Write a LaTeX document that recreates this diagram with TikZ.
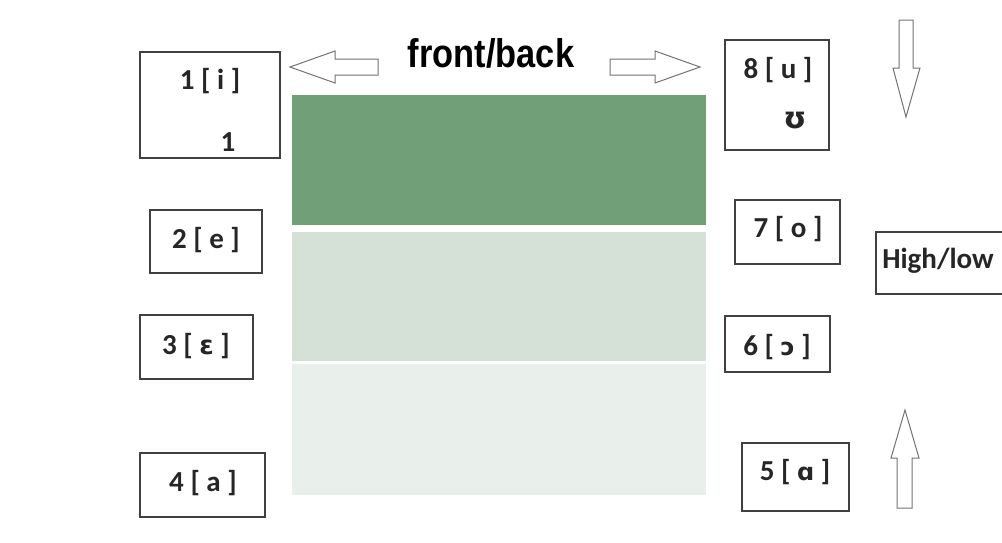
\documentclass[tikz,border=0pt]{standalone}
\usepackage{fontspec}
\setmainfont{Carlito}
\newfontfamily\ipafont{DejaVu Sans}
\newfontfamily\titlefont{Liberation Sans}
\begin{document}
\begin{tikzpicture}[x=1pt,y=-1pt,
  lbox/.style={draw=black!75,line width=1.1pt,fill=white},
  lbl/.style={font=\fontsize{29}{32}\selectfont\bfseries,text=black!85,inner sep=0pt},
  ipa/.style={font=\ipafont\fontsize{30}{34}\selectfont\bfseries,text=black!85,inner sep=0pt},
  hollow/.style={draw=black!55,line width=1pt,fill=white,line join=miter}]
\useasboundingbox (0,0) rectangle (1002,542);
\fill[white] (0,0) rectangle (1002,542);
% green bands
\fill[fill={rgb,255:red,113;green,160;blue,120}] (292,95) rectangle (706,225);
\fill[fill={rgb,255:red,213;green,224;blue,214}] (292,232) rectangle (706,361);
\fill[fill={rgb,255:red,233;green,239;blue,234}] (292,364) rectangle (706,495);
% title
\node[font=\titlefont\fontsize{40}{44}\selectfont\bfseries,inner sep=0pt,xscale=0.86] (title) at (491,53) {front/back};
% horizontal arrows
\draw[hollow] (378,59) -- (335,59) -- (335,51) -- (290,67) -- (335,83) -- (335,75) -- (378,75) -- cycle;
\draw[hollow] (610,59) -- (655,59) -- (655,51) -- (700,67) -- (655,83) -- (655,75) -- (610,75) -- cycle;
% vertical arrows
\draw[hollow] (899,20) -- (913,20) -- (913,68) -- (920,68) -- (906,117) -- (893,68) -- (899,68) -- cycle;
\draw[hollow] (897,508) -- (912,508) -- (912,458) -- (919,458) -- (905,410) -- (891,458) -- (897,458) -- cycle;
% left boxes
\draw[lbox] (140,52) rectangle (280,158);
\node[lbl] (b1) at (210,81) {1 [ i ]};
\node[lbl] (b1b) at (228,142) {1};
\draw[lbox] (150,210) rectangle (262,273);
\node[lbl] (b2) at (206,240) {2 [ e ]};
\draw[lbox] (140,315) rectangle (253,379);
\node[lbl] (b3) at (196,346) {3 [ {\ipafont\bfseries\fontsize{26}{30}\selectfont ɛ} ]};
\draw[lbox] (140,453) rectangle (265,517);
\node[lbl] (b4) at (203,483) {4 [ a ]};
% right boxes
\draw[lbox] (725,40) rectangle (829,150);
\node[lbl] (b8) at (778,70) {8 [ u ]};
\node[ipa] (b8b) at (795,121) {ʊ};
\draw[lbox] (735,200) rectangle (840,264);
\node[lbl] (b7) at (788,229) {7 [ o ]};
\draw[lbox] (725,316) rectangle (830,372);
\node[lbl] (b6) at (777,347) {6 [ {\ipafont\fontsize{24}{28}\selectfont ɔ} ]};
\draw[lbox] (742,443) rectangle (849,511);
\node[lbl] (b5) at (795,472) {5 [ {\ipafont\fontsize{24}{28}\selectfont ɑ} ]};
% high/low
\draw[lbox] (876,232) rectangle (1005,294);
\node[lbl] (hl) at (938,261) {High/low};
\end{tikzpicture}
\end{document}
